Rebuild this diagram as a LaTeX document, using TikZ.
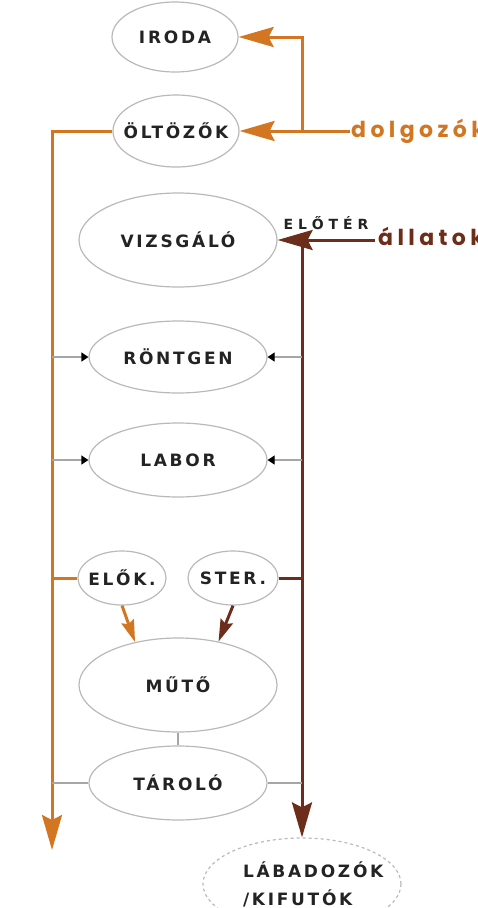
\documentclass[tikz,border=0pt]{standalone}
\usepackage{fontspec}
\usetikzlibrary{shapes.geometric,arrows.meta}
\newfontfamily\roomfont[LetterSpace=16]{DejaVu Sans}
\newfontfamily\doorfont[LetterSpace=35]{DejaVu Sans}
\newfontfamily\flowfont[LetterSpace=20]{Poppins}
\definecolor{staff}{RGB}{210,118,34}
\definecolor{animal}{RGB}{108,46,26}
\definecolor{rim}{RGB}{185,185,185}
\definecolor{ink}{RGB}{35,35,35}

\begin{document}
\begin{tikzpicture}[x=1pt,y=-1pt]
\tikzstyle{room} = [ellipse, draw=rim, line width=1.2pt, inner xsep=-20pt, inner ysep=0pt,
            text=ink, font=\roomfont\bfseries\fontsize{17}{20}\selectfont];
\tikzstyle{flow} = [inner sep=0pt, anchor=base west,
            font=\flowfont\bfseries\fontsize{22}{26}\selectfont];
\tikzstyle{bigtip} = [-{Stealth[length=35pt,width=20pt,inset=5pt]}];
\tikzstyle{smalltip} = [-{Stealth[length=22pt,width=13pt,inset=3pt]}];
\tikzstyle{staffline} = [draw=staff, line width=3pt];
\tikzstyle{animalline} = [draw=animal, line width=3pt];
\tikzstyle{side} = [draw=gray!70, line width=1.2pt];
\tikzstyle{sidetip} = [-{Triangle[length=7pt,width=9pt,color=black]}];

    \useasboundingbox (0,0) rectangle (478,908);

    % rooms
    \node (iroda) at (175,37) [room, minimum width=126, minimum height=70] {IRODA};
    \node (oltozo) at (176,131) [room, minimum width=126, minimum height=72] {ÖLTÖZŐK};
    \node (vizsgalo) at (178,240) [room, minimum width=198, minimum height=94] {VIZSGÁLÓ};
    \node (rontgen) at (178,357) [room, minimum width=178, minimum height=72] {RÖNTGEN};
    \node (labor) at (178,460) [room, minimum width=178, minimum height=74] {LABOR};
    \node (elok) at (122,578) [room, minimum width=88, minimum height=54] {ELŐK.};
    \node (ster) at (233,578) [room, minimum width=90, minimum height=54] {STER.};
    \node (muto) at (178,685) [room, minimum width=198, minimum height=94] {MŰTŐ};
    \node (tarolo) at (178,783) [room, minimum width=178, minimum height=74] {TÁROLÓ};
    \node (labadozo) at (302,884) [room, dashed, minimum width=198, minimum height=92,
        text width=118, align=left, font=\roomfont\bfseries\fontsize{17}{28}\selectfont]
        {LÁBADOZÓK\\/KIFUTÓK};

    \node (eloter) at (326,229) [anchor=base, inner sep=0pt, text=ink,
        font=\doorfont\bfseries\fontsize{14}{16}\selectfont] {ELŐTÉR};

    % dolgozok
    \node (dolgozok) at (351,137) [flow, text=staff] {dolgozók};
    \coordinate (dolg) at (350,131);
    \coordinate (dknee) at (302,131);
    \coordinate (dend) at (52,850);
    \draw[staffline, bigtip, staff] (dolg) -- (oltozo.east);
    \draw[staffline, bigtip, staff] (dknee) |- (iroda.east);
    \draw[staffline, bigtip, staff] (oltozo.west) -| (dend);
    \draw[staffline] (elok.west) -- (elok.west -| dend);
    \draw[staffline, smalltip, staff] (elok.south) -- (muto.135);

    % allatok
    \node (allatok) at (378,245) [flow, text=animal] {állatok};
    \coordinate (allat) at (375,240);
    \coordinate (bknee) at (302,240);
    \draw[animalline, bigtip, animal] (allat) -- (vizsgalo.east);
    \draw[animalline, bigtip, animal] (bknee) -- (labadozo.north);
    \draw[animalline] (ster.east) -- (ster.east -| bknee);
    \draw[animalline, smalltip, animal] (ster.south) -- (muto.47);

    % side links
    \foreach \r in {rontgen, labor} {
        \draw[side, sidetip] (\r.west -| dend) -- (\r.west);
        \draw[side, sidetip] (\r.east -| bknee) -- (\r.east);
    }
    \draw[side] (tarolo.west) -- (tarolo.west -| dend);
    \draw[side] (tarolo.east) -- (tarolo.east -| bknee);
    \draw[side] (muto) -- (tarolo);

\end{tikzpicture}
\end{document}
